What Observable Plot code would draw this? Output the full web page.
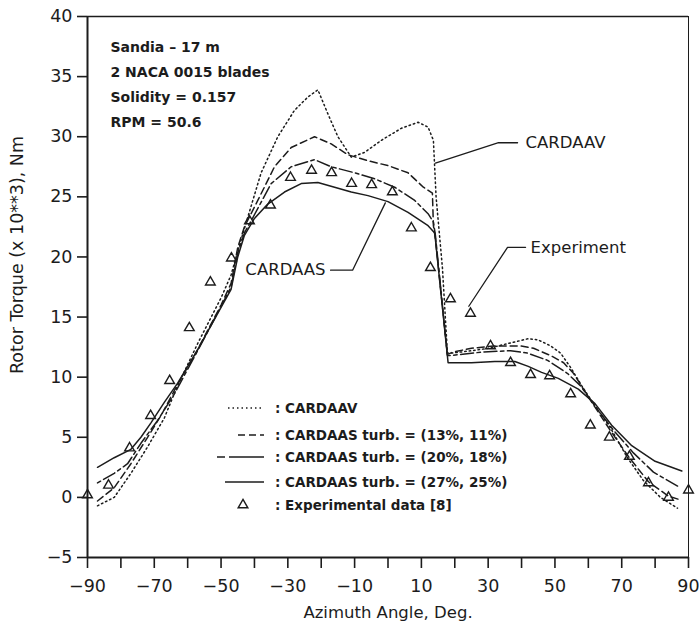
<!DOCTYPE html>
<html><head><meta charset="utf-8">
<script src="https://cdn.jsdelivr.net/npm/d3@7"></script>
<script src="https://cdn.jsdelivr.net/npm/@observablehq/plot@0.6"></script>
<style>
body{margin:0;background:#fff;}
#wrap{position:relative;width:699px;height:634px;}
#wrap svg.legend{position:absolute;left:0;top:0;pointer-events:none;}
</style></head><body><div id="wrap"></div>
<script>
// ---- axis ticks ----
const xTicks = [-90,-80,-70,-60,-50,-40,-30,-20,-10,0,10,20,30,40,50,60,70,80,90];
const xLabelValues = [-90,-70,-50,-30,-10,10,30,50,70,90];
const xLabelTexts = ["−90","−70","−50","−30","−10","10","30","50","70","90"];
const yTicks = [-5,0,5,10,15,20,25,30,35,40];
const yTickTexts = ["−5","0","5","10","15","20","25","30","35","40"];

// ---- CARDAAV (dotted) ----
const cardaavX = [-87,-82,-77,-72,-67,-63,-57,-50,-47,-45,-42,-38,-33,-28,-24,-21,-18,-15,-11,-7,-2,4,9,12,13.6,14.4,16.3,17.8,19,25,30,36,42,45,48.7,51.7,54.7,58,62,66.6,71.7,76.5,81.6,86.7];
const cardaavY = [-0.7,0,2.0,4.2,6.6,9.3,12.8,16.6,18.5,20.5,23.3,27.0,30.0,32.2,33.3,33.9,31.9,30.0,28.3,28.7,29.7,30.7,31.2,30.8,29.7,25.0,19.1,12.0,12.0,12.2,12.4,12.8,13.2,13.1,12.6,12.0,10.8,9.3,7.6,5.8,3.3,1.4,0,-0.9];

// ---- CARDAAS turb. = (13%, 11%) (dashed) ----
const turb13X = [-87,-82,-77,-72,-68,-63,-57,-50,-47,-45,-43,-39,-34,-29,-22,-17,-12,-6,0,6,10.6,13.3,13.6,14.2,17.8,19.6,25,31.6,39.7,43.6,48.7,52.6,55.6,62,67,72,78,84,87.5];
const turb13Y = [-0.3,0.8,2.8,5.0,6.8,9.4,12.3,16.0,17.8,20.8,22.5,24.7,27.5,29.1,30.0,29.4,28.5,28.0,27.6,27.0,25.8,25.3,22.6,21.5,11.9,12.1,12.4,12.6,12.6,12.4,11.8,11.2,10.3,7.5,5.4,3.4,1.3,0.1,-0.2];

// ---- CARDAAS turb. = (20%, 18%) (dash-dot) ----
const turb20X = [-87,-82,-78,-74,-69,-64,-57,-50,-47,-45,-43,-41,-35,-29,-22,-17,-10,-4,2,8,12,13.6,14.2,17.8,18.7,28.6,36.7,41.8,47.8,53.8,57.6,62,67.5,73.5,79.5,87.6];
const turb20Y = [1.2,2.0,2.8,4.5,6.4,8.6,12.2,15.9,17.5,20.3,22.0,23.0,26.1,27.5,28.1,27.5,27.0,26.5,25.8,24.7,23.6,22.9,21.8,11.8,11.8,12.1,12.2,12.0,11.4,10.3,9.3,7.6,5.6,3.7,2.1,0.8];

// ---- CARDAAS turb. = (27%, 25%) (solid) ----
const turb27X = [-87,-82,-77,-74,-71,-67,-63,-57,-50,-47,-45,-43,-40,-36,-31,-26,-21,-16,-11,-6,0,6,12,14,18,25,32,38,42,46,51,57,62,67,73,80,88];
const turb27Y = [2.5,3.3,4.0,5.0,6.2,7.9,9.5,12.3,15.8,17.3,20.0,21.8,23.2,24.4,25.4,26.1,26.2,25.8,25.4,25.1,24.6,23.7,22.6,22.0,11.2,11.2,11.3,11.3,10.9,10.4,9.9,9.0,7.8,6.0,4.3,3.0,2.2];

// ---- Experimental data [8] ----
const expX = [-90,-83.7,-77.4,-71.1,-65.4,-59.5,-53.2,-46.9,-41.5,-35.2,-29.2,-22.9,-16.9,-10.9,-4.9,1.3,7.0,12.7,18.7,24.7,30.7,36.7,42.7,48.4,54.7,60.6,66.3,72.3,78.0,84.0,90];
const expY = [0.2,1.0,4.1,6.8,9.7,14.1,17.9,19.9,23.0,24.3,26.6,27.2,27.0,26.1,26.0,25.4,22.4,19.1,16.5,15.3,12.6,11.2,10.2,10.1,8.6,6.0,5.0,3.4,1.2,0.0,0.6];

// ---- texts ----
const infoLines = ["Sandia – 17 m","2 NACA 0015 blades","Solidity = 0.157","RPM = 50.6"];
const xAxisTitle = "Azimuth Angle, Deg.";
const yAxisTitle = "Rotor Torque (x 10**3), Nm";
const legendLabels = [": CARDAAV",": CARDAAS turb. = (13%, 11%)",": CARDAAS turb. = (20%, 18%)",": CARDAAS turb. = (27%, 25%)",": Experimental data [8]"];

// callouts (leader lines in data units)
const calloutNames = ["CARDAAV","Experiment","CARDAAS"];
const calloutX = [[14.2,33.1,38.8],[24.2,35.8,41.2],[-0.8,-10.6,-17.2]];
const calloutY = [[27.8,29.5,29.5],[15.9,20.8,20.8],[24.5,18.9,18.9]];

// ---- styles ----
const INK = "#1c1c1c";
const dashes = {dotted:"1.5,3", dashed:"7,4", dashdot:"3.5,3.5,13,3.5", solid:null};

const toPts = (xs, ys) => xs.map((x, i) => ({x, y: ys[i]}));
const series = [
  {pts: toPts(cardaavX, cardaavY), dash: dashes.dotted},
  {pts: toPts(turb13X, turb13Y), dash: dashes.dashed},
  {pts: toPts(turb20X, turb20Y), dash: dashes.dashdot},
  {pts: toPts(turb27X, turb27Y), dash: dashes.solid}
];
const expPts = toPts(expX, expY);
const labelMap = new Map(xLabelValues.map((v, i) => [v, xLabelTexts[i]]));
const yLabelMap = new Map(yTicks.map((v, i) => [v, yTickTexts[i]]));

const callouts = calloutNames.map((n, i) => ({name: n, pts: toPts(calloutX[i], calloutY[i])}));

const marks = [
  Plot.frame({stroke: INK, strokeWidth: 1}),
  Plot.axisX({ticks: xTicks, tickSize: 11, tickPadding: 11, tickFormat: d => labelMap.get(d) ?? "", label: null, stroke: INK, strokeWidth: 1.6, fontSize: 17.5, fill: INK}),
  Plot.axisY({ticks: yTicks, tickSize: 10, tickPadding: 5, tickFormat: d => yLabelMap.get(d), label: null, stroke: INK, strokeWidth: 1.6, fontSize: 17.5, fill: INK}),
  Plot.ruleX([-90], {stroke: INK, strokeWidth: 2}),
  Plot.ruleY([-5], {stroke: INK, strokeWidth: 2}),
  Plot.ruleY([40], {stroke: INK, strokeWidth: 1.5}),
  ...series.map(s => Plot.line(s.pts, {x: "x", y: "y", stroke: INK, strokeWidth: 1.5, strokeDasharray: s.dash})),
  Plot.dot(expPts, {x: "x", y: "y", symbol: "triangle", r: 3.6, stroke: INK, strokeWidth: 1.4, fill: "none"}),
  ...callouts.map(c => Plot.line(c.pts, {x: "x", y: "y", stroke: INK, strokeWidth: 1.3})),
  Plot.text([callouts[0]], {x: d => d.pts[2].x, y: d => d.pts[2].y, text: "name", textAnchor: "start", dx: 8, fontSize: 16.5, fill: INK}),
  Plot.text([callouts[1]], {x: d => d.pts[2].x, y: d => d.pts[2].y, text: "name", textAnchor: "start", dx: 5, fontSize: 16.5, fill: INK}),
  Plot.text([callouts[2]], {x: d => d.pts[2].x, y: d => d.pts[2].y, text: "name", textAnchor: "end", dx: -5, fontSize: 16.5, fill: INK}),
  Plot.text([infoLines.join("\n")], {frameAnchor: "top-left", dx: 23, dy: 18, lineHeight: 1.79, fontSize: 14, fontWeight: "bold", fill: INK, textAnchor: "start", lineAnchor: "top"}),
  Plot.text([xAxisTitle], {frameAnchor: "bottom", dy: 60, fontSize: 16.5, fill: INK}),
  Plot.text([yAxisTitle], {frameAnchor: "left", dx: -70, dy: -32, rotate: -90, textAnchor: "middle", fontSize: 17.5, fill: INK, letterSpacing: "1px"})
];

const plot = Plot.plot({
  width: 699, height: 634,
  marginLeft: 87, marginRight: 11, marginTop: 16, marginBottom: 77,
  x: {domain: [-90, 90]},
  y: {domain: [-5, 40]},
  style: {fontFamily: "DejaVu Sans", background: "white", color: INK, overflow: "visible"},
  marks
});
const wrap = document.getElementById("wrap");
wrap.appendChild(plot);

// ---- legend overlay ----
const legendRows = [
  {kind: "line", dash: dashes.dotted, x1: 228, x2: 264, y: 408},
  {kind: "line", dash: dashes.dashed, x1: 238, x2: 264, y: 435},
  {kind: "line", dash: "8,4,40", x1: 217, x2: 264, y: 457},
  {kind: "line", dash: null, x1: 225, x2: 264, y: 482},
  {kind: "tri", x1: 243, y: 505}
];
const svg = d3.select(wrap).append("svg").attr("class", "legend").attr("width", 699).attr("height", 634)
  .attr("font-family", "DejaVu Sans");
legendRows.forEach((r, i) => {
  if (r.kind === "line") {
    svg.append("line").attr("x1", r.x1).attr("x2", r.x2).attr("y1", r.y).attr("y2", r.y)
      .attr("stroke", INK).attr("stroke-width", 1.5).attr("stroke-dasharray", r.dash);
  } else {
    svg.append("path").attr("d", d3.symbol(d3.symbolTriangle, Math.PI * 3.6 * 3.6)())
      .attr("transform", `translate(${r.x1},${r.y})`).attr("fill", "none").attr("stroke", INK).attr("stroke-width", 1.4);
  }
  svg.append("text").attr("x", 275).attr("y", r.y).attr("dy", "0.36em")
    .attr("font-size", 13.5).attr("font-weight", "bold").attr("fill", INK).text(legendLabels[i]);
});
</script></body></html>
